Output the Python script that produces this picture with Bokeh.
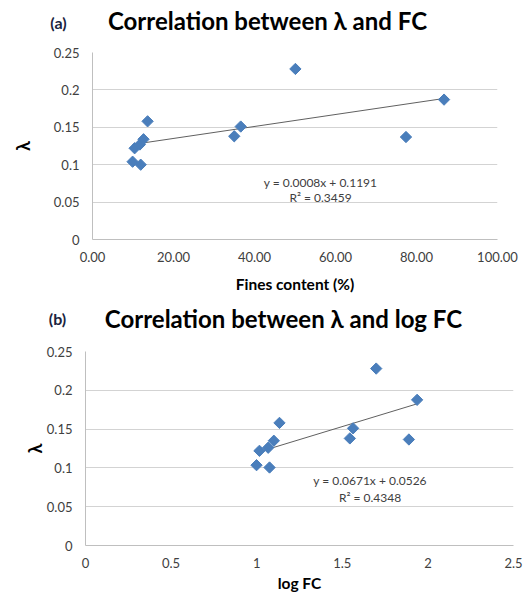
import math
from bokeh.plotting import figure
from bokeh.models import Range1d, FixedTicker, CustomJSTickFormatter, Label
from bokeh.core.properties import value
from bokeh.layouts import column
from bokeh.embed import file_html
from bokeh.resources import INLINE

# ---- data ----
fines_content = [9.9, 10.4, 11.7, 11.9, 12.6, 13.6, 35.0, 36.6, 50.1, 77.4, 86.8]
lambda_a = [0.104, 0.122, 0.127, 0.100, 0.134, 0.158, 0.138, 0.151, 0.228, 0.137, 0.187]

log_fc = [0.999, 1.016, 1.067, 1.075, 1.100, 1.133, 1.544, 1.563, 1.698, 1.889, 1.937]
lambda_b = [0.1035, 0.122, 0.126, 0.1005, 0.135, 0.158, 0.138, 0.151, 0.228, 0.1366, 0.1877]

slope_a, intercept_a, r2_a = 0.0008, 0.1191, 0.3459
slope_b, intercept_b, r2_b = 0.0671, 0.0526, 0.4348

x_ticks_a = [0, 20, 40, 60, 80, 100]
x_ticks_b = [0, 0.5, 1, 1.5, 2, 2.5]
y_ticks = [0, 0.05, 0.1, 0.15, 0.2, 0.25]

title_a = "Correlation between λ and FC"
title_b = "Correlation between λ and log FC"

FONT = "Lato"
BLUE = "#4A7EBB"
GRID = "#D3D3D3"
AXIS = "#BFBFBF"
TICK_COLOR = "#404040"
TAG_COLOR = "#1B2440"


def make_title_strip(height, tag, tag_pos, title, title_pos):
    t = figure(width=524, height=height, x_range=Range1d(0, 524), y_range=Range1d(height, 0),
               x_axis_type=None, y_axis_type=None, title=None,
               output_backend="svg", toolbar_location=None,
               min_border=0, min_border_left=0, min_border_right=0,
               min_border_top=0, min_border_bottom=0)
    t.frame_align = False
    t.outline_line_color = None
    t.background_fill_color = "white"
    t.border_fill_color = "white"
    t.grid.visible = False
    t.text(x=[tag_pos[0]], y=[tag_pos[1]], text=[tag], text_font=value(FONT),
           text_font_size="16px", text_font_style="bold", text_color=TAG_COLOR,
           text_align="center", text_baseline="middle")
    t.text(x=[title_pos[0]], y=[title_pos[1]], text=[title], text_font=value(FONT),
           text_font_size="24px", text_font_style="bold", text_color="black",
           text_align="center", text_baseline="middle")
    return t


def make_plot(height, x_end, xticks, xfmt, borders, xlabel, x_std, xl_std, yl_std):
    bl, br, bt, bb = borders
    p = figure(width=524, height=height, title=None,
               x_range=Range1d(0, x_end), y_range=Range1d(0, 0.25),
               output_backend="svg", toolbar_location=None,
               min_border_left=bl, min_border_right=br,
               min_border_top=bt, min_border_bottom=bb)
    p.frame_align = False
    p.outline_line_color = None
    p.background_fill_color = "white"
    p.border_fill_color = "white"
    p.xgrid.visible = False
    p.ygrid.grid_line_color = GRID
    p.ygrid.grid_line_width = 1
    p.ygrid.ticker = FixedTicker(ticks=y_ticks)

    p.xaxis.ticker = FixedTicker(ticks=xticks)
    p.yaxis.ticker = FixedTicker(ticks=y_ticks)
    p.xaxis.formatter = CustomJSTickFormatter(code=xfmt)
    p.yaxis.formatter = CustomJSTickFormatter(code="return String(Math.round(tick*100)/100);")
    for ax in (p.xaxis, p.yaxis):
        ax.axis_line_color = AXIS
        ax.major_tick_line_color = None
        ax.minor_tick_line_color = None
        ax.major_tick_out = 0
        ax.major_tick_in = 0
        ax.major_label_text_font = FONT
        ax.major_label_text_font_size = "13px"
        ax.major_label_text_color = TICK_COLOR
        ax.axis_label_text_font = FONT
        ax.axis_label_text_font_style = "bold"
        ax.axis_label_text_color = "black"
    p.xaxis.major_label_standoff = x_std
    p.yaxis.major_label_standoff = 13
    p.xaxis.axis_label = xlabel
    p.xaxis.axis_label_text_font_size = "15.5px"
    p.xaxis.axis_label_standoff = xl_std
    p.yaxis.axis_label = "λ"
    p.yaxis.axis_label_text_font_size = "18px"
    p.yaxis.axis_label_standoff = yl_std
    return p


# ---------------- (a) ----------------
t1 = make_title_strip(40, "(a)", (58, 21.5), title_a, (267, 20))
p1 = make_plot(260, 100, x_ticks_a, "return tick.toFixed(2);",
               (92, 27, 12, 61), "Fines content (%)", 12, 10, 17)
xa0, xa1 = min(fines_content), max(fines_content)
p1.line([xa0, xa1], [slope_a * xa0 + intercept_a, slope_a * xa1 + intercept_a],
        line_color="#606060", line_width=1)
p1.scatter(fines_content, lambda_a, marker="square", angle=math.pi / 4, size=8,
           fill_color=BLUE, line_color=BLUE)
p1.add_layout(Label(x=56.3, y=0.0762, text=f"y = {slope_a:.4f}x + {intercept_a:.4f}",
                    text_font=FONT, text_font_size="12px", text_color=TICK_COLOR,
                    text_align="center", text_baseline="middle"))
p1.add_layout(Label(x=56.3, y=0.0568, text=f"R² = {r2_a:.4f}",
                    text_font=FONT, text_font_size="12px", text_color=TICK_COLOR,
                    text_align="center", text_baseline="middle"))

# ---------------- (b) ----------------
t2 = make_title_strip(40, "(b)", (57, 17.5), title_b, (283, 18))
p2 = make_plot(257, 2.5, x_ticks_b, "return String(Math.round(tick*10)/10);",
               (85, 11, 11, 52), "log FC", 12, 3, -2)
xb0, xb1 = min(log_fc), max(log_fc)
p2.line([xb0, xb1], [slope_b * xb0 + intercept_b, slope_b * xb1 + intercept_b],
        line_color="#606060", line_width=1)
p2.scatter(log_fc, lambda_b, marker="square", angle=math.pi / 4, size=8,
           fill_color=BLUE, line_color=BLUE)
p2.add_layout(Label(x=1.662, y=0.0838, text=f"y = {slope_b:.4f}x + {intercept_b:.4f}",
                    text_font=FONT, text_font_size="12px", text_color=TICK_COLOR,
                    text_align="center", text_baseline="middle"))
p2.add_layout(Label(x=1.662, y=0.0625, text=f"R² = {r2_b:.4f}",
                    text_font=FONT, text_font_size="12px", text_color=TICK_COLOR,
                    text_align="center", text_baseline="middle"))

layout = column(t1, p1, t2, p2, spacing=0)
open("out.html", "w").write(file_html(layout, INLINE))
